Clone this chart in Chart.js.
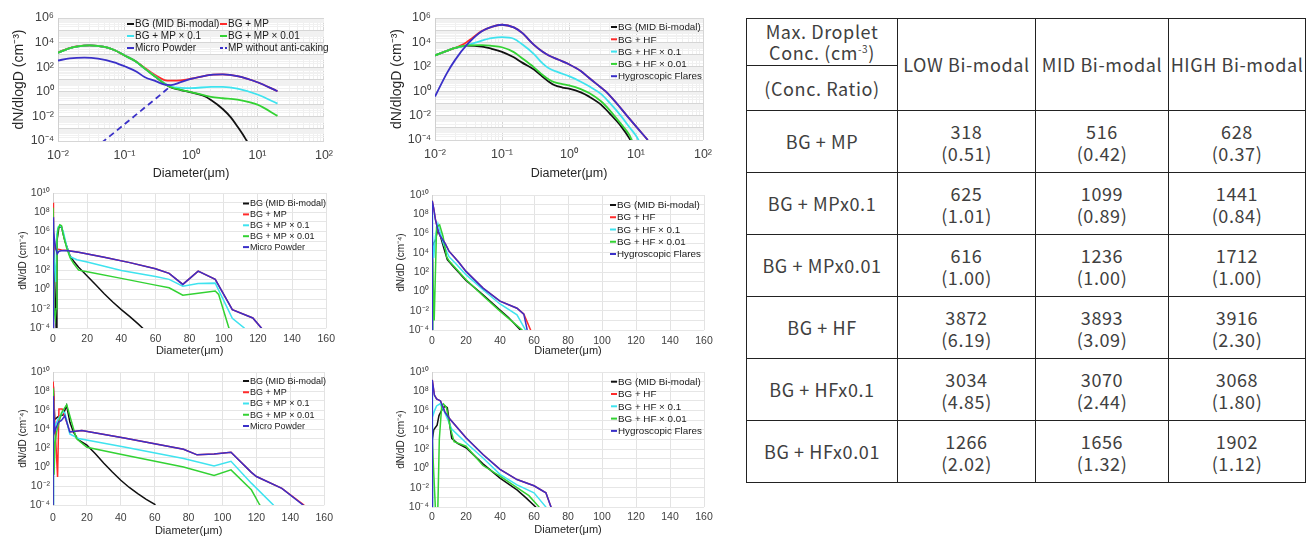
<!DOCTYPE html>
<html lang="en">
<head>
<meta charset="UTF-8">
<title>Droplet size distributions - MP / HF seeding</title>
<script src="https://cdn.jsdelivr.net/npm/chart.js"></script>
<style>
  body { margin: 0; width: 1312px; height: 539px; background: #fff; position: relative; overflow: hidden; }
  canvas { position: absolute; }
  #c1 { left: 0; top: 0; }
  #c2 { left: 380px; top: 0; }
  #c3 { left: 0; top: 183px; }
  #c4 { left: 380px; top: 183px; }
  #c5 { left: 0; top: 360px; }
  #c6 { left: 380px; top: 360px; }
  #tbl { position: absolute; left: 746px; top: 18px; width: 559px; table-layout: fixed; border-collapse: collapse;
         font-family: "Noto Sans CJK JP", "Noto Sans", sans-serif; font-size: 18px; letter-spacing: 0.6px; color: #404040; }
  #tbl td { border: 1.5px solid #222; text-align: center; vertical-align: middle; padding: 0; line-height: 21px; white-space: nowrap; }
  #tbl sup { font-size: 10px; line-height: 0; }
</style>
</head>
<body>
<canvas id="c1" width="340" height="186"></canvas>
<canvas id="c2" width="340" height="186"></canvas>
<canvas id="c3" width="340" height="175"></canvas>
<canvas id="c4" width="340" height="175"></canvas>
<canvas id="c5" width="340" height="179"></canvas>
<canvas id="c6" width="340" height="179"></canvas>
<table id="tbl"></table>

<script>
const FONT = '"Liberation Sans", Arial, sans-serif';

// legend labels
const mpLabels = ['BG (MID Bi-modal)', 'BG + MP', 'BG + MP \u00d7 0.1', 'BG + MP \u00d7 0.01', 'Micro Powder', 'MP without anti-caking'];
const hfLabels = ['BG (MID Bi-modal)', 'BG + HF', 'BG + HF \u00d7 0.1', 'BG + HF \u00d7 0.01', 'Hygroscopic Flares'];

// tick values
const logXTicks = [-2, -1, 0, 1, 2];          // exponents, dN/dlogD panels
const logYTicksTop = [-4, -2, 0, 2, 4, 6];    // labelled exponents, top panels
const logYTicksLin = [-4, -2, 0, 2, 4, 6, 8, 10];
const linXTicks = [0, 20, 40, 60, 80, 100, 120, 140, 160];

// ---- panel 1 : Micro Powder, dN/dlogD (cm-3) vs D (um) ----
const p1Bg = [[0.01,1500],[0.015,3500],[0.02,5000],[0.03,6000],[0.05,4500],[0.07,2500],[0.1,900],[0.15,280],[0.2,80],[0.3,15],[0.4,4.5],[0.5,2.3],[0.7,1.4],[1,0.9],[1.5,0.5],[2,0.22],[3,0.04],[4,0.008],[5,0.0015],[6,0.00035],[7,0.00009]];
const p1Mp = [[0.01,1600],[0.015,3600],[0.02,5100],[0.03,6000],[0.05,4500],[0.07,2500],[0.1,900],[0.15,290],[0.2,90],[0.3,20],[0.4,9],[0.5,8],[0.7,8.5],[1,11.5],[2,24],[3,26],[5,19],[10,6],[20,1.1]];
const p1Mp01 = [[0.01,1500],[0.015,3500],[0.02,5000],[0.03,6000],[0.05,4500],[0.07,2500],[0.1,900],[0.15,280],[0.2,80],[0.3,16],[0.4,5],[0.5,2.7],[0.7,2.1],[1,2],[2,2.5],[3,2.5],[5,1.8],[10,0.6],[20,0.11]];
const p1Mp001 = [[0.01,1500],[0.015,3500],[0.02,5000],[0.03,6000],[0.05,4500],[0.07,2500],[0.1,900],[0.15,280],[0.2,80],[0.3,15],[0.4,4.6],[0.5,2.35],[0.7,1.45],[1,0.95],[1.5,0.55],[2,0.38],[3,0.3],[5,0.23],[10,0.09],[20,0.011]];
const p1Micro = [[0.01,350],[0.015,520],[0.025,600],[0.04,500],[0.07,250],[0.1,120],[0.15,45],[0.2,16],[0.3,7],[0.4,3.8],[0.5,3.5],[0.7,6],[1,11],[2,24],[3,26],[5,19],[10,6],[20,1.1]];
const p1NoAnti = [[0.045,0.00007],[0.1,0.0023],[0.2,0.05],[0.3,0.3],[0.4,1.1],[0.5,3]];

// ---- panel 2 : Hygroscopic Flares, dN/dlogD ----
const p2Bg = [[0.01,850],[0.015,2000],[0.02,3500],[0.03,5500],[0.05,4500],[0.07,3000],[0.1,1700],[0.15,600],[0.2,220],[0.3,60],[0.4,16],[0.5,6],[0.6,3.2],[0.8,2],[1,1.6],[1.5,0.8],[2,0.36],[3,0.08],[4,0.016],[6,0.0013],[8,0.00013],[9,0.00004]];
const p2Hf = [[0.01,850],[0.015,2000],[0.02,3600],[0.025,6000],[0.03,11000],[0.035,20000],[0.05,85000],[0.07,190000],[0.1,280000],[0.15,170000],[0.2,60000],[0.3,6300],[0.4,1800],[0.5,850],[0.7,380],[1,160],[1.5,45],[2,12],[3,2],[3.5,1],[5,0.12],[7.3,0.01],[10,0.0013],[15,0.0001]];
const p2Hf01 = [[0.01,850],[0.015,2000],[0.02,3500],[0.03,5800],[0.05,14000],[0.07,22000],[0.1,27000],[0.15,20000],[0.2,7000],[0.3,1100],[0.4,200],[0.5,75],[0.7,35],[1,17],[1.5,6],[2,2.5],[3,0.6],[4,0.12],[6,0.009],[8,0.0011],[10,0.00022],[11.5,0.00006]];
const p2Hf001 = [[0.01,850],[0.015,2000],[0.02,3500],[0.03,5700],[0.05,6000],[0.07,5200],[0.1,4000],[0.15,1600],[0.2,500],[0.3,90],[0.4,22],[0.5,9],[0.6,5.5],[0.8,3.8],[1,3],[1.5,1.5],[2,0.7],[3,0.15],[4,0.03],[6,0.002],[8,0.00025],[9,0.00006]];
const p2Flares = [[0.01,0.36],[0.015,29],[0.02,370],[0.03,6500],[0.05,83000],[0.07,190000],[0.1,280000],[0.15,170000],[0.2,60000],[0.3,6300],[0.4,1800],[0.5,850],[0.7,380],[1,160],[1.5,45],[2,12],[3,2],[3.5,1],[5,0.12],[7.3,0.01],[10,0.0013],[15,0.0001]];

// ---- panel 3 : Micro Powder, dN/dD (cm-4) vs D (um) ----
const p3Bg = [[0,0.00001],[0.1,2e8],[0.6,1000],[1.5,0.01],[2,0.00001],[2.3,100000],[3.5,3e6],[5,3e6],[7,100000],[10,3000],[12,900],[15,200],[20,25],[25,3],[30,0.35],[35,0.05],[40,0.008],[45,0.0015],[50,0.00025],[53,0.00008]];
const p3Mp = [[0,0.00001],[0.05,1e9],[0.5,1e6],[1.2,15000],[2,18000],[3,15000],[5,12000],[8,11000],[15,7000],[30,2200],[45,600],[60,140],[68,47],[76,3.3],[85,80],[95,11],[105,0.008],[117,0.0011],[122,0.0001],[123,0.00005]];
const p3Mp01 = [[0,0.00001],[0.05,1e7],[0.5,10000],[1.7,6],[2.2,500000],[3,3e6],[4.5,4e6],[6,1e6],[8,30000],[10,2500],[14,1200],[20,700],[40,90],[60,22],[68,11],[76,2.2],[85,4],[95,4.5],[105,0.001],[112,0.0001],[113,0.00005]];
const p3Mp001 = [[0,0.00001],[0.05,3e8],[0.6,0.01],[1.3,0.001],[1.8,0.01],[2.3,100000],[3,2e6],[4,5e6],[5,4e6],[6,500000],[8,20000],[10,2000],[12,500],[15,100],[20,67],[40,14],[60,2.8],[68,1.5],[76,0.25],[85,0.4],[95,0.7],[97,0.3],[103,0.0001],[104,0.00005]];
const p3Micro = [[0,0.00001],[0.05,3e7],[0.5,1e6],[1.5,20000],[2.5,5000],[3.5,9000],[5,10000],[8,11000],[15,7000],[30,2200],[45,600],[60,140],[68,47],[76,3.3],[85,80],[95,11],[105,0.008],[117,0.0011],[122,0.0001],[123,0.00005]];

// ---- panel 4 : Hygroscopic Flares, dN/dD ----
const p4Bg = [[0,0.00001],[0.2,0.00001],[0.3,1],[0.5,10000],[1,100000],[2,200000],[3.3,2.5e6],[5,500000],[7,30000],[9,2000],[12,500],[20,14],[30,0.45],[40,0.012],[45,0.002],[52,0.0001],[53,0.00005]];
const p4Hf = [[0,0.00001],[0.15,2.5e9],[1,4e8],[2,3e7],[3.7,1.5e6],[5,500000],[7.6,100000],[10,15000],[15.5,1200],[20,120],[30,2.2],[40,0.1],[50,0.018],[54,0.0045],[58,0.0001],[58.5,0.00005]];
const p4Hf01 = [[0,0.00001],[0.1,2e8],[0.5,1e6],[1,3000],[2,500000],[3.5,1e7],[5,1e6],[7,60000],[10,4000],[15,500],[20,55],[30,1.5],[40,0.05],[50,0.0037],[55,0.0001],[55.5,0.00005]];
const p4Hf001 = [[0,0.00001],[0.2,0.00001],[0.4,2000],[1.3,0.001],[1.7,0.001],[2.7,5e6],[4.5,8e6],[6.5,500000],[8.6,4000],[10,1500],[20,16],[30,0.35],[40,0.009],[45,0.0016],[53,0.0001],[53.5,0.00005]];
const p4Flares = [[0,0.00001],[0.15,2.5e9],[1,4e8],[2,3e7],[3.7,1.5e6],[5,500000],[7.6,100000],[10,15000],[15.5,1200],[20,120],[30,2.2],[40,0.1],[50,0.018],[54,0.0045],[56,0.0001],[56.5,0.00005]];

// ---- panel 5 : Micro Powder, dN/dD ----
const p5Bg = [[0,0.00001],[0.15,0.01],[0.3,3e8],[1,100000],[3,200000],[6,300000],[8,3e6],[10,50000],[12,5000],[15,700],[20,200],[25,25],[30,2.5],[35,0.3],[40,0.04],[45,0.007],[50,0.0016],[55,0.0004],[60,0.00012],[61,0.00005]];
const p5Mp = [[0,0.00001],[0.1,1e9],[1,100000],[2.7,0.09],[3.5,1.3e6],[5.4,1.3e6],[7,200000],[9.9,5000],[11.8,5600],[17,7000],[42,1100],[77,75],[85,19],[95,24],[105,35],[117,0.27],[120,0.1],[135,0.0056],[148,0.0001],[149,0.00005]];
const p5Mp01 = [[0,0.00001],[0.1,1e7],[0.5,10000],[3.1,120000],[6,700000],[7,500000],[9.9,3000],[15,1000],[42,125],[77,8],[95,1.3],[105,4],[117,0.02],[130,0.0001],[131,0.00005]];
const p5Mp001 = [[0,0.00001],[0.1,2e8],[0.6,0.15],[1.2,300],[2.1,5000],[5,500000],[8.1,3.6e6],[12,12000],[13.8,1000],[20,120],[42,18],[77,1],[95,0.13],[105,0.5],[117,0.004],[122,0.0001],[123,0.00005]];
const p5Micro = [[0,0.00001],[0.1,3e7],[1,5000],[3.1,50000],[5,80000],[7,250000],[9.9,5000],[11.8,5600],[17,7000],[42,1100],[77,75],[85,19],[95,24],[105,35],[117,0.27],[120,0.1],[135,0.0056],[147.5,0.0001],[148.5,0.00005]];

// ---- panel 6 : Hygroscopic Flares, dN/dD ----
const p6Bg = [[0,0.00001],[0.2,0.00001],[0.3,1000],[1,10000],[3,30000],[4.1,300000],[6,1.3e6],[7.6,3e6],[9,2e6],[11.6,1300],[15,400],[20,140],[30,3],[40,0.1],[50,0.006],[55,0.001],[61,0.0001],[62,0.00005]];
const p6Hf = [[0,0.00001],[0.15,1.5e9],[1.4,4e7],[2.7,1.6e7],[5,1e7],[7.6,700000],[10,170000],[20,1500],[30,28],[40,0.8],[50,0.07],[60,0.016],[67,0.003],[70,0.0001],[70.5,0.00005]];
const p6Hf01 = [[0,0.00001],[0.1,1e8],[0.5,200000],[1.5,1e6],[2.7,3e6],[4.7,5e6],[7,1e6],[11.6,12000],[20,460],[30,12],[40,0.24],[50,0.02],[60,0.003],[67,0.0001],[67.5,0.00005]];
const p6Hf001 = [[0,0.00001],[0.1,1000],[2.5,0.000001],[3.2,0.000001],[4.3,1000],[5.7,3e6],[6.7,5e6],[8.5,2e6],[10.6,20000],[13,600],[20,200],[30,2],[40,0.16],[50,0.01],[57,0.0015],[63,0.0001],[63.5,0.00005]];
const p6Flares = [[0,0.00001],[0.15,1.5e9],[1.4,4e7],[2.7,1.6e7],[5,1e7],[7.6,700000],[10,170000],[20,1500],[30,28],[40,0.8],[50,0.07],[60,0.016],[67,0.003],[70,0.0001],[70.5,0.00005]];

// ---- table ----
const tableRows = ['BG + MP', 'BG + MPx0.1', 'BG + MPx0.01', 'BG + HF', 'BG + HFx0.1', 'BG + HFx0.01'];
const tableCols = ['LOW Bi-modal', 'MID Bi-modal', 'HIGH Bi-modal'];
const maxConc = [[318, 516, 628], [625, 1099, 1441], [616, 1236, 1712], [3872, 3893, 3916], [3034, 3070, 3068], [1266, 1656, 1902]];
const concRatio = [['0.51', '0.42', '0.37'], ['1.01', '0.89', '0.84'], ['1.00', '1.00', '1.00'], ['6.19', '3.09', '2.30'], ['4.85', '2.44', '1.80'], ['2.02', '1.32', '1.12']];

const COLORS = ['#111111', '#ff2b2b', '#3fe3ef', '#33d233', '#3a30c8', '#3a30c8'];

// ---------- helpers ----------
const SUP = { '-': '\u207b', '0': '\u2070', '1': '\u00b9', '2': '\u00b2', '3': '\u00b3', '4': '\u2074', '5': '\u2075', '6': '\u2076', '7': '\u2077', '8': '\u2078', '9': '\u2079' };
function powLabel(e) { return '10' + String(e).split('').map(c => SUP[c]).join(''); }
function expOf(v) { const l = Math.log10(v); return Math.abs(l - Math.round(l)) < 1e-6 ? Math.round(l) : null; }

function logGrid(e0, e1, minor) {
  const out = [];
  for (let e = e0; e <= e1; e++) {
    out.push(Number('1e' + e));
    if (minor && e < e1) for (let k = 2; k <= 9; k++) out.push(Number(k + 'e' + e));
  }
  return out;
}

function series(label, pts, i, smooth) {
  return {
    label: label,
    data: pts.map(p => ({ x: p[0], y: p[1] })),
    borderColor: COLORS[i],
    backgroundColor: COLORS[i],
    borderWidth: smooth ? 1.8 : 1.5,
    borderDash: i === 5 ? [6, 4] : [],
    pointRadius: 0,
    fill: false,
    tension: 0,
    cubicInterpolationMode: smooth ? 'monotone' : 'default'
  };
}

// legend drawn inside the plot area, like the original figure
const insideLegend = {
  id: 'insideLegend',
  afterDatasetsDraw(chart, args, o) {
    const ctx = chart.ctx;
    ctx.save();
    ctx.font = o.size + 'px ' + FONT;
    ctx.textBaseline = 'middle';
    ctx.textAlign = 'left';
    chart.data.datasets.forEach((ds, i) => {
      const x = o.x + (i % o.cols) * o.colW;
      const y = o.y + Math.floor(i / o.cols) * o.rowH;
      ctx.strokeStyle = ds.borderColor;
      ctx.lineWidth = 2;
      ctx.setLineDash(ds.borderDash.length ? [3, 2] : []);
      ctx.beginPath();
      ctx.moveTo(x, y);
      ctx.lineTo(x + o.lineW, y);
      ctx.stroke();
      ctx.fillStyle = '#1a1a1a';
      ctx.fillText(ds.label, x + o.lineW + 1, y + 0.5);
    });
    ctx.restore();
  }
};

function makeChart(id, cfg) {
  const ds = cfg.datasets;
  ds.forEach((d, i) => { d.order = ds.length - i; });   // later series on top
  const logX = cfg.logX;
  const tickFont = { family: FONT, size: cfg.tickSize };
  const xTicks = logX ? logGrid(-2, 2, true) : linXTicks;
  const yTicks = logGrid(-4, cfg.yMaxExp, cfg.minorY);
  const labelled = cfg.yLabels;

  return new Chart(document.getElementById(id), {
    type: 'line',
    data: { datasets: ds },
    options: {
      responsive: false,
      animation: false,
      events: [],
      layout: { padding: { top: cfg.padTop, right: cfg.padRight, left: 0, bottom: 0 } },
      plugins: {
        legend: { display: false },
        tooltip: { enabled: false },
        insideLegend: cfg.legend
      },
      scales: {
        x: {
          type: logX ? 'logarithmic' : 'linear',
          min: logX ? 0.01 : 0,
          max: logX ? 100 : 160,
          afterBuildTicks: s => { s.ticks = xTicks.map(v => ({ value: v })); },
          afterFit: s => { s.height = cfg.xH; },
          ticks: {
            autoSkip: false, maxRotation: 0, padding: cfg.xTickPad, color: '#404040', font: tickFont,
            callback: v => {
              if (!logX) return String(v);
              const e = expOf(v);
              return e !== null && logXTicks.includes(e) ? powLabel(e) : '';
            }
          },
          grid: {
            drawTicks: false,
            color: c => {
              const v = c.tick ? c.tick.value : 0;
              if (!logX) return '#e3e3e3';
              return expOf(v) !== null ? '#d6d6d6' : '#efefef';
            }
          },
          border: { display: false },
          title: {
            display: true, text: 'Diameter(\u03bcm)', color: '#262626',
            font: { family: FONT, size: cfg.titleSize },
            padding: { top: 0, bottom: cfg.xTitlePad }
          }
        },
        y: {
          type: 'logarithmic',
          min: 1e-4,
          max: Number('1e' + cfg.yMaxExp),
          afterBuildTicks: s => { s.ticks = yTicks.map(v => ({ value: v })); },
          afterFit: s => { s.width = cfg.yW; },
          ticks: {
            autoSkip: false, padding: cfg.yTickPad, color: '#404040', font: tickFont,
            callback: v => {
              const e = expOf(v);
              return e !== null && labelled.includes(e) ? powLabel(e) : '';
            }
          },
          grid: {
            drawTicks: false,
            color: c => {
              const v = c.tick ? c.tick.value : 1;
              if (expOf(v) !== null) return logX ? '#d6d6d6' : '#e6e6e6';
              return '#f1f1f1';
            }
          },
          border: { display: true, color: '#d0d0d0' },
          title: {
            display: true, text: cfg.yTitle, color: '#262626',
            font: { family: FONT, size: cfg.yTitleSize },
            padding: { top: cfg.yTitlePad, bottom: 0 }
          }
        }
      }
    },
    plugins: [insideLegend]
  });
}

// ---------- top row: dN/dlogD ----------
makeChart('c1', {
  logX: true, yMaxExp: 6, minorY: true, yLabels: logYTicksTop,
  padTop: 18, padRight: 12, xH: 45, yW: 58,
  tickSize: 12.5, titleSize: 12.5, yTitleSize: 14, xTickPad: 7, xTitlePad: 5, yTickPad: 4, yTitlePad: 11,
  yTitle: 'dN/dlogD (cm\u207b\u00b3)',
  legend: { x: 127, y: 24, cols: 2, colW: 93, rowH: 12, lineW: 7, size: 10 },
  datasets: [
    series(mpLabels[0], p1Bg, 0, true),
    series(mpLabels[1], p1Mp, 1, true),
    series(mpLabels[2], p1Mp01, 2, true),
    series(mpLabels[3], p1Mp001, 3, true),
    series(mpLabels[4], p1Micro, 4, true),
    series(mpLabels[5], p1NoAnti, 5, true)
  ]
});

makeChart('c2', {
  logX: true, yMaxExp: 6, minorY: true, yLabels: logYTicksTop,
  padTop: 18, padRight: 17, xH: 46, yW: 55,
  tickSize: 12.5, titleSize: 12.5, yTitleSize: 14, xTickPad: 7, xTitlePad: 5, yTickPad: 4, yTitlePad: 9,
  yTitle: 'dN/dlogD (cm\u207b\u00b3)',
  legend: { x: 231, y: 27, cols: 1, colW: 0, rowH: 12.3, lineW: 6, size: 9.8 },
  datasets: [
    series(hfLabels[0], p2Bg, 0, true),
    series(hfLabels[1], p2Hf, 1, true),
    series(hfLabels[2], p2Hf01, 2, true),
    series(hfLabels[3], p2Hf001, 3, true),
    series(hfLabels[4], p2Flares, 4, true)
  ]
});

// ---------- middle row: dN/dD ----------
makeChart('c3', {
  logX: false, yMaxExp: 10, minorY: false, yLabels: logYTicksLin,
  padTop: 10, padRight: 12, xH: 30, yW: 53,
  tickSize: 10.5, titleSize: 11, yTitleSize: 10, xTickPad: 5, xTitlePad: 0, yTickPad: 3, yTitlePad: 17,
  yTitle: 'dN/dD (cm\u207b\u2074)',
  legend: { x: 243, y: 20.5, cols: 1, colW: 0, rowH: 10.9, lineW: 6, size: 9 },
  datasets: [
    series(mpLabels[0], p3Bg, 0, false),
    series(mpLabels[1], p3Mp, 1, false),
    series(mpLabels[2], p3Mp01, 2, false),
    series(mpLabels[3], p3Mp001, 3, false),
    series(mpLabels[4], p3Micro, 4, false)
  ]
});

makeChart('c4', {
  logX: false, yMaxExp: 10, minorY: false, yLabels: logYTicksLin,
  padTop: 12, padRight: 16, xH: 28, yW: 52,
  tickSize: 10.5, titleSize: 11, yTitleSize: 10, xTickPad: 5, xTitlePad: 0, yTickPad: 3, yTitlePad: 15,
  yTitle: 'dN/dD (cm\u207b\u2074)',
  legend: { x: 230, y: 22, cols: 1, colW: 0, rowH: 12.25, lineW: 6, size: 9.8 },
  datasets: [
    series(hfLabels[0], p4Bg, 0, false),
    series(hfLabels[1], p4Hf, 1, false),
    series(hfLabels[2], p4Hf01, 2, false),
    series(hfLabels[3], p4Hf001, 3, false),
    series(hfLabels[4], p4Flares, 4, false)
  ]
});

// ---------- bottom row: dN/dD ----------
makeChart('c5', {
  logX: false, yMaxExp: 10, minorY: false, yLabels: logYTicksLin,
  padTop: 12, padRight: 12, xH: 34, yW: 53,
  tickSize: 10.5, titleSize: 11, yTitleSize: 10, xTickPad: 7, xTitlePad: 1, yTickPad: 3, yTitlePad: 17,
  yTitle: 'dN/dD (cm\u207b\u2074)',
  legend: { x: 243, y: 21, cols: 1, colW: 0, rowH: 11.25, lineW: 6, size: 9 },
  datasets: [
    series(mpLabels[0], p5Bg, 0, false),
    series(mpLabels[1], p5Mp, 1, false),
    series(mpLabels[2], p5Mp01, 2, false),
    series(mpLabels[3], p5Mp001, 3, false),
    series(mpLabels[4], p5Micro, 4, false)
  ]
});

makeChart('c6', {
  logX: false, yMaxExp: 10, minorY: false, yLabels: logYTicksLin,
  padTop: 12, padRight: 16, xH: 32, yW: 52,
  tickSize: 10.5, titleSize: 11, yTitleSize: 10, xTickPad: 4, xTitlePad: 2, yTickPad: 3, yTitlePad: 15,
  yTitle: 'dN/dD (cm\u207b\u2074)',
  legend: { x: 231, y: 21.7, cols: 1, colW: 0, rowH: 12.3, lineW: 6, size: 9.8 },
  datasets: [
    series(hfLabels[0], p6Bg, 0, false),
    series(hfLabels[1], p6Hf, 1, false),
    series(hfLabels[2], p6Hf01, 2, false),
    series(hfLabels[3], p6Hf001, 3, false),
    series(hfLabels[4], p6Flares, 4, false)
  ]
});

// ---------- table ----------
(function buildTable() {
  const t = document.getElementById('tbl');
  let html = '<colgroup><col style="width:151px"><col style="width:138px"><col style="width:133px"><col style="width:137px"></colgroup>';
  html += '<tr style="height:47px"><td>Max. Droplet<br>Conc. (cm<sup>-3</sup>)</td>';
  tableCols.forEach(c => { html += '<td rowspan="2">' + c + '</td>'; });
  html += '</tr><tr style="height:45px"><td>(Conc. Ratio)</td></tr>';
  tableRows.forEach((r, i) => {
    html += '<tr style="height:62px"><td>' + r + '</td>';
    maxConc[i].forEach((v, j) => {
      html += '<td style="line-height:22px">' + v + '<br>(' + concRatio[i][j] + ')</td>';
    });
    html += '</tr>';
  });
  t.innerHTML = html;
})();
</script>
</body>
</html>
